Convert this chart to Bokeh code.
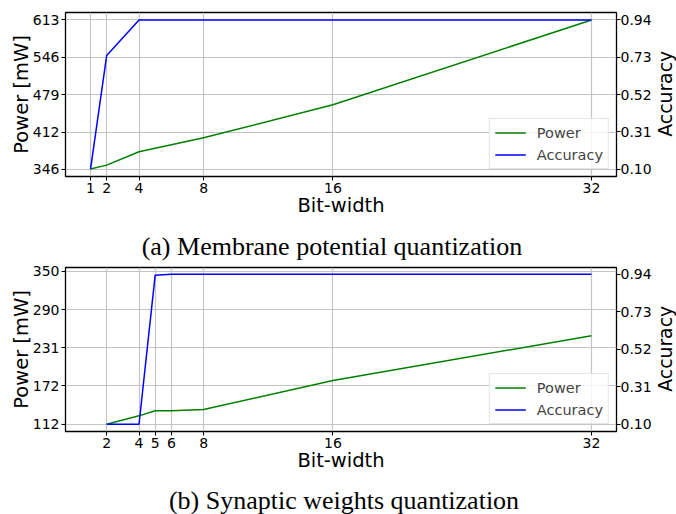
import math
from bokeh.plotting import figure
from bokeh.models import (Range1d, LinearAxis, FixedTicker, Legend, LegendItem,
                          Label, PrintfTickFormatter)
from bokeh.layouts import column, row
from bokeh.embed import file_html
from bokeh.resources import INLINE

# ---- data ----
bits_a = [1, 2, 4, 8, 16, 32]
power_a = [346, 353, 377, 402, 461, 613]
acc_a = [0.10, 0.74, 0.94, 0.94, 0.94, 0.94]
power_ticks_a = [346, 412, 479, 546, 613]
caption_a = "(a) Membrane potential quantization"

bits_b = [2, 4, 5, 6, 8, 16, 32]
power_b = [112, 125, 133, 133, 135, 180, 250]
acc_b = [0.10, 0.10, 0.935, 0.94, 0.94, 0.94, 0.94]
power_ticks_b = [112, 172, 231, 290, 350]
caption_b = "(b) Synaptic weights quantization"

acc_ticks = [0.10, 0.31, 0.52, 0.73, 0.94]
x_label = "Bit-width"
power_label = "Power [mW]"
acc_label = "Accuracy"
series_names = ["Power", "Accuracy"]

SANS = "DejaVu Sans"
SERIF = "Liberation Serif"
W = 676
WM = 654          # main plot width
WS = W - WM       # side strip holding the right axis title
BL, BR, BB = 65, WM - 618, 56


def make_panel(bits, power, acc, pticks, yr, ar, height, top):
    p = figure(width=WM, height=height, x_range=Range1d(-0.55, 33.55),
               y_range=Range1d(*yr), output_backend="svg",
               toolbar_location=None, min_border_left=BL, min_border_right=BR,
               min_border_top=top, min_border_bottom=BB)
    p.extra_y_ranges = {"acc": Range1d(*ar)}
    p.outline_line_color = "black"
    p.outline_line_width = 1.3
    p.background_fill_color = "white"
    p.border_fill_color = "white"

    p.xgrid.ticker = FixedTicker(ticks=bits)
    p.ygrid.ticker = FixedTicker(ticks=pticks)
    for g in (p.xgrid, p.ygrid):
        g.grid_line_color = "#c4c4c4"
        g.grid_line_width = 1.2

    xa = p.xaxis[0]
    xa.ticker = FixedTicker(ticks=bits)
    xa.axis_label = x_label
    ya = p.yaxis[0]
    ya.ticker = FixedTicker(ticks=pticks)
    ya.axis_label = power_label
    ra = LinearAxis(y_range_name="acc", ticker=FixedTicker(ticks=acc_ticks),
                    formatter=PrintfTickFormatter(format="%.2f"))
    p.add_layout(ra, "right")

    for ax in (xa, ya, ra):
        ax.axis_line_color = None
        ax.major_tick_line_color = "black"
        ax.major_tick_line_width = 1
        ax.major_tick_out = 4
        ax.major_tick_in = 0
        ax.minor_tick_line_color = None
        ax.major_label_text_font = SANS
        ax.major_label_text_font_size = "14px"
        ax.major_label_text_color = "black"
        ax.major_label_standoff = 2
        ax.axis_label_text_font = SANS
        ax.axis_label_text_font_size = "19.5px"
        ax.axis_label_text_font_style = "normal"
        ax.axis_label_text_color = "black"
    xa.axis_label_standoff = -2
    ya.axis_label_standoff = -3
    ra.major_label_standoff = 0
    ra.axis_label_standoff = 0

    lp = p.line(bits, power, line_color="green", line_width=1.5)
    la = p.line(bits, acc, y_range_name="acc", line_color="blue", line_width=1.5)

    leg = Legend(items=[LegendItem(label=series_names[0], renderers=[lp]),
                        LegendItem(label=series_names[1], renderers=[la])],
                 location="bottom_right", margin=7, padding=5, spacing=5,
                 glyph_width=31, glyph_height=17, label_height=17,
                 label_standoff=11, label_text_font=SANS,
                 label_text_font_size="14.5px", border_line_color="#cccccc",
                 border_line_width=1, background_fill_alpha=0.8)
    p.add_layout(leg, "center")
    return p


def make_side(height, top):
    s = figure(width=WS, height=height, output_backend="svg",
               toolbar_location=None, x_axis_location=None,
               y_axis_location=None, min_border_left=0, min_border_right=0,
               min_border_top=top, min_border_bottom=BB,
               outline_line_color=None, x_range=Range1d(0, 1),
               y_range=Range1d(0, 1))
    s.grid.visible = False
    fh = height - top - BB
    s.add_layout(Label(x=WS / 2, y=fh / 2 + 0.7, x_units="screen",
                       y_units="screen", text=acc_label, angle=math.pi / 2,
                       text_align="center", text_baseline="middle",
                       text_font=SANS, text_font_size="18.8px",
                       text_color="black"))
    return s


def make_caption(text, height, cx, base):
    c = figure(width=W, height=height, output_backend="svg",
               toolbar_location=None, x_axis_location=None,
               y_axis_location=None, min_border_left=BL,
               min_border_right=W - 618, min_border_top=0,
               min_border_bottom=0, outline_line_color=None,
               x_range=Range1d(0, 1), y_range=Range1d(0, 1))
    c.grid.visible = False
    c.add_layout(Label(x=cx, y=base, x_units="screen", y_units="screen",
                       text=text, text_align="center",
                       text_baseline="alphabetic", text_font=SERIF,
                       text_font_size="26px", text_color="black"))
    return c


p1 = make_panel(bits_a, power_a, acc_a, power_ticks_a, (332.65, 626.35),
                (0.058, 0.982), 232, 12)
s1 = make_side(232, 12)
c1 = make_caption(caption_a, 31, 266.4, 16.6)
p2 = make_panel(bits_b, power_b, acc_b, power_ticks_b, (100.6, 356.2),
                (0.0593, 0.978), 224, 4)
s2 = make_side(224, 4)
c2 = make_caption(caption_b, 27, 278.5, 14)

layout = column(row(p1, s1, spacing=0), c1, row(p2, s2, spacing=0), c2,
                spacing=0)
open("out.html", "w").write(file_html(layout, INLINE))
